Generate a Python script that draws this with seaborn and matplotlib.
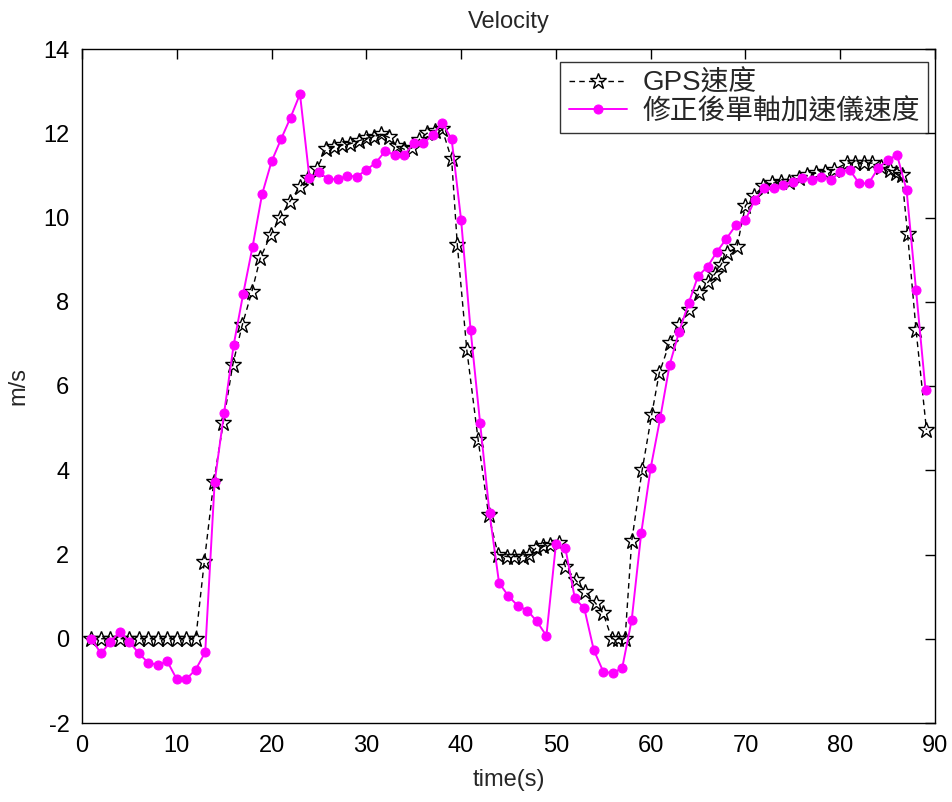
import numpy as np
import pandas as pd
import matplotlib
matplotlib.use("Agg")
import matplotlib.pyplot as plt
import seaborn as sns

# ---- data ----
gps_t = [1, 2, 3, 4, 5, 6, 7, 8, 9, 10, 11, 12,
         12.9, 13.9, 14.9, 15.9, 16.9, 17.9, 18.8, 19.9, 20.9, 21.9, 23.0,
         23.8, 24.8, 25.7, 26.6, 27.4, 28.3, 29.2, 30.0, 30.8, 31.6, 32.4,
         33.2, 34.0, 34.8, 35.6, 36.4, 37.2, 38.0, 39.0, 39.6, 40.6, 41.8,
         42.9, 43.9, 44.8, 45.6, 46.5, 47.2, 47.9, 48.6, 49.4, 50.3, 51.0,
         52.1, 53.1, 54.2, 55.0, 55.9, 56.6, 57.3, 58.0, 59.1, 60.1, 60.9,
         62.0, 63.0, 64.0, 65.1, 66.1, 66.8, 67.4, 68.1, 69.1, 70.0, 70.9,
         71.9, 72.8, 73.7, 74.6, 75.6, 76.5, 77.4, 78.4, 79.3, 80.7, 81.6,
         82.5, 83.4, 84.3, 85.2, 85.9, 86.5, 87.1, 88.0, 89.1]
gps_v = [0, 0, 0, 0, 0, 0, 0, 0, 0, 0, 0, 0,
         1.82, 3.72, 5.12, 6.5, 7.44, 8.22, 9.03, 9.58, 10.0, 10.37, 10.73,
         10.93, 11.15, 11.62, 11.68, 11.72, 11.75, 11.82, 11.88, 11.92, 11.98, 11.9,
         11.7, 11.62, 11.65, 11.85, 12.0, 12.05, 12.1, 11.38, 9.35, 6.86, 4.72,
         2.94, 2.0, 1.95, 1.95, 1.95, 2.0, 2.15, 2.19, 2.23, 2.28, 1.71,
         1.39, 1.12, 0.84, 0.6, 0.0, 0.0, 0.0, 2.32, 4.0, 5.31, 6.3,
         7.03, 7.45, 7.8, 8.2, 8.48, 8.67, 8.87, 9.15, 9.3, 10.28, 10.52,
         10.75, 10.81, 10.85, 10.85, 10.93, 11.0, 11.05, 11.09, 11.13, 11.29, 11.29,
         11.29, 11.29, 11.2, 11.13, 11.05, 11.0, 9.62, 7.33, 4.96]

imu_t = list(range(1, 90))
imu_v = [0.0, -0.35, -0.07, 0.17, -0.07, -0.35, -0.57, -0.62, -0.54, -0.96,
         -0.96, -0.73, -0.32, 3.73, 5.37, 6.97, 8.18, 9.31, 10.55, 11.33,
         11.86, 12.37, 12.93, 10.93, 11.07, 10.91, 10.91, 10.99, 10.97, 11.13,
         11.3, 11.58, 11.48, 11.48, 11.76, 11.76, 11.96, 12.25, 11.86, 9.94,
         7.33, 5.13, 2.98, 1.33, 1.01, 0.78, 0.67, 0.41, 0.07, 2.24,
         2.15, 0.96, 0.72, -0.27, -0.78, -0.82, -0.69, 0.45, 2.5, 4.05,
         5.23, 6.5, 7.29, 7.96, 8.61, 8.83, 9.19, 9.5, 9.82, 9.94,
         10.42, 10.69, 10.69, 10.77, 10.85, 10.93, 10.89, 10.97, 10.89, 11.09,
         11.13, 10.81, 10.81, 11.17, 11.37, 11.48, 10.65, 8.28, 5.9]

x_ticks = [0, 10, 20, 30, 40, 50, 60, 70, 80, 90]
y_ticks = [-2, 0, 2, 4, 6, 8, 10, 12, 14]
label_gps = "GPS速度"
label_imu = "修正後單軸加速儀速度"

sns.set_style("white")
plt.rcParams['font.family'] = ['Liberation Sans', 'Noto Sans CJK TC', 'DejaVu Sans']
plt.rcParams['axes.unicode_minus'] = False

fig = plt.figure(figsize=(9.53, 8.02), dpi=100)
ax = fig.add_axes([82/953, 1-723/802, (935-82)/953, (723-49)/802])

gps_df = pd.DataFrame({"t": gps_t, "v": gps_v})
imu_df = pd.DataFrame({"t": imu_t, "v": imu_v})

sns.lineplot(data=gps_df, x="t", y="v", ax=ax, sort=False, color="black",
             linewidth=1.0, dashes=False, marker="*", markersize=12,
             markerfacecolor="none", markeredgecolor="black", markeredgewidth=1.0,
             label=label_gps)
ax.lines[-1].set_dashes((4, 3))
sns.lineplot(data=imu_df, x="t", y="v", ax=ax, sort=False, color="#ff00ff",
             linewidth=1.4, marker="o", markersize=6.5,
             markerfacecolor="#ff00ff", markeredgecolor="#ff00ff",
             label=label_imu)

ax.set_xlim(0, 90)
ax.set_ylim(-2, 14)
ax.set_xticks(x_ticks)
ax.set_yticks(y_ticks)
ax.tick_params(direction="in", length=7, width=1, top=True, right=True,
               labelsize=17, colors="black", pad=9)
for s in ax.spines.values():
    s.set_visible(True)
    s.set_color("black")
    s.set_linewidth(1.0)
ax.grid(False)
ax.set_title("Velocity", fontsize=17, pad=15)
ax.set_xlabel("time(s)", fontsize=17, labelpad=8)
ax.set_ylabel("m/s", fontsize=17, labelpad=10)

leg = ax.legend(loc="upper right", bbox_to_anchor=((928-82)/853, (723-62)/674),
                borderaxespad=0.0, frameon=True, fancybox=False, edgecolor="black",
                borderpad=0.3, handlelength=2.1, handletextpad=0.55, labelspacing=0.08,
                prop={'family': ['Liberation Sans', 'Noto Sans CJK TC'], 'size': 20})
leg.get_frame().set_linewidth(1.0)

fig.savefig("out.png", dpi=100, facecolor="white")
